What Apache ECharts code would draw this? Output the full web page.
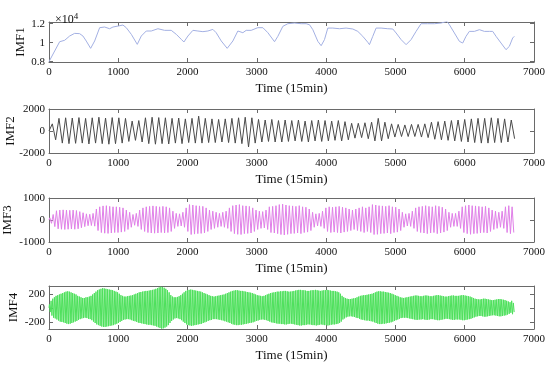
<!DOCTYPE html>
<html><head><meta charset="utf-8">
<script src="https://cdn.jsdelivr.net/npm/echarts@6/dist/echarts.min.js"></script>
<style>html,body{margin:0;padding:0;background:#fff}#c{width:550px;height:368px}</style>
</head><body><div id="c"></div>
<script>
const xTicks = [0,1000,2000,3000,4000,5000,6000,7000];
const yNames = ['IMF1','IMF2','IMF3','IMF4'];
const xName = 'Time (15min)';
const imf1Ticks = [8000,10000,12000];
const imf2Ticks = [-2000,0,2000];
const imf3Ticks = [-1000,0,1000];
const imf4Ticks = [-200,0,200];

const imf1T = [0,10,82,154,226,298,370,442,490,538,601,659,731,803,875,923,995,1067,1115,1188,1274,1332,1404,1476,1572,1668,1764,1837,1909,1947,2005,2077,2149,2221,2293,2365,2413,2486,2572,2654,2726,2798,2846,2918,3014,3087,3159,3255,3303,3375,3447,3543,3639,3712,3760,3808,3880,3928,3976,4024,4096,4192,4288,4385,4457,4529,4601,4625,4673,4721,4793,4889,4962,5010,5082,5154,5226,5298,5370,5466,5563,5659,5745,5779,5851,5923,5971,6019,6067,6139,6212,6284,6356,6404,6452,6524,6596,6644,6692,6716];
const imf1V = [8000,8070,9120,10100,10250,10700,10980,10950,10700,10170,9400,10180,11580,11650,11470,11650,11750,11860,11580,10880,9820,10700,11230,11230,11470,11300,11300,10880,10350,10070,10700,11300,11230,11160,11230,11400,11050,10180,9400,10180,11230,11050,11300,11300,11580,11580,11050,10100,10670,11720,12000,12070,12000,12000,11890,11370,10140,9680,10320,11540,11540,11470,11540,11440,11190,10670,10040,9790,10670,11540,11540,11470,11440,11020,10320,9790,10320,11190,12000,12000,12000,12070,12250,11890,11020,10140,9960,10670,11190,11190,11370,11190,11190,11190,10670,9960,9260,9610,10490,10670];

// IMF2: alternating extrema, one every half day (48 samples)
const imf2Step = 48;
const imf2V = [0,650,-800,1150,-1100,1200,-1150,1180,-1120,1220,
-1100,1150,-1180,1200,-1100,1250,-1150,1180,-1200,1220,
-1150,1200,-1100,1150,-950,900,-850,950,-1000,1200,
-1150,1250,-1200,1220,-1150,1200,-1180,1150,-1100,1180,
-1150,1100,-1050,1150,-1100,1350,-1100,1150,-1050,1100,
-1050,1050,-1000,1100,-1050,1150,-1100,1200,-1150,1250,
-1450,1200,-1100,1050,-1000,1000,-950,1050,-1000,950,
-1000,1000,-950,950,-900,1000,-950,900,-1000,950,
-900,1000,-950,950,-900,900,-850,950,-900,850,
-800,700,-650,700,-600,750,-700,800,-900,1150,
-900,800,-700,650,-550,600,-500,550,-500,600,
-500,600,-550,650,-600,800,-750,850,-800,900,
-850,950,-900,1000,-950,1050,-1000,1100,-1050,1150,
-1100,1150,-1100,1200,-1050,1150,-1050,1100,-1000,1000,-700];

// IMF3: one peak and one trough per 48-sample cycle
const imf3Period = 48;
const imf3Peaks = [100,250,420,450,460,450,440,450,430,380,330,280,260,300,500,600,640,650,620,600,600,580,550,450,350,250,300,450,550,600,620,640,620,600,620,600,550,400,300,280,350,550,700,680,650,640,620,550,450,400,350,300,350,400,550,650,680,700,650,640,620,550,450,400,380,450,600,620,650,700,720,680,650,640,620,650,600,580,500,350,280,300,400,550,600,580,600,620,580,550,500,450,500,550,600,550,600,700,680,650,640,620,650,600,580,500,350,280,300,400,550,600,620,650,620,600,650,620,580,500,350,300,300,400,600,650,680,650,640,620,600,620,550,450,400,350,400,600,650,600];
const imf3Troughs = [-150,-300,-400,-420,-430,-420,-410,-420,-400,-350,-300,-260,-250,-280,-480,-570,-600,-610,-590,-570,-570,-550,-520,-430,-330,-240,-290,-430,-520,-570,-590,-600,-590,-570,-590,-570,-520,-380,-290,-270,-330,-520,-660,-640,-620,-610,-590,-520,-430,-380,-330,-290,-330,-380,-520,-620,-650,-660,-620,-610,-590,-520,-430,-380,-360,-430,-570,-590,-620,-660,-680,-650,-620,-610,-590,-620,-570,-550,-480,-330,-270,-290,-380,-520,-570,-550,-570,-590,-550,-520,-480,-430,-480,-520,-570,-520,-570,-660,-650,-620,-610,-590,-620,-570,-550,-480,-330,-270,-290,-380,-520,-570,-590,-620,-590,-570,-620,-590,-550,-480,-330,-290,-290,-380,-570,-620,-650,-620,-610,-590,-570,-590,-520,-430,-380,-330,-380,-570,-620,-570];

// IMF4: one peak and one trough per 24-sample cycle
const imf4Period = 24;
const imf4Peaks = [50,100,130,150,170,180,190,200,210,220,230,235,230,220,210,200,190,170,160,150,140,140,150,150,160,170,190,210,230,250,260,270,280,275,270,265,260,255,250,240,230,220,200,180,170,160,160,165,170,175,180,190,200,210,220,225,230,235,240,240,245,250,255,260,270,280,290,300,295,285,270,250,220,180,160,150,150,155,165,180,200,220,240,250,255,260,255,250,245,240,235,230,220,210,200,190,180,170,165,160,165,170,175,180,185,190,200,210,220,230,240,245,250,250,245,240,240,235,230,225,220,215,210,200,190,180,175,170,165,170,180,190,200,210,215,220,225,230,230,235,235,240,240,235,230,230,235,240,245,250,255,255,250,250,245,240,240,245,250,250,255,250,245,240,245,250,250,255,250,245,240,240,235,230,220,200,170,150,140,130,125,125,130,135,140,150,160,170,175,180,180,185,190,195,200,210,220,230,235,235,230,230,225,220,215,210,200,190,180,170,160,150,145,140,145,150,155,160,165,170,175,175,170,165,165,170,175,175,170,165,165,170,175,180,180,175,170,165,160,160,165,170,175,175,170,170,170,175,180,180,175,170,165,160,150,140,130,125,120,120,125,130,130,125,120,115,110,110,115,120,125,125,120,115,110,100,90,80,100,70];
const imf4Troughs = [-60,-110,-140,-150,-165,-180,-195,-200,-205,-215,-225,-230,-225,-215,-205,-195,-185,-170,-160,-150,-145,-140,-145,-155,-160,-175,-195,-215,-235,-245,-255,-265,-270,-270,-265,-260,-255,-250,-245,-235,-225,-215,-200,-185,-170,-165,-160,-160,-165,-175,-185,-190,-200,-210,-215,-220,-225,-230,-235,-240,-240,-245,-250,-255,-265,-275,-285,-295,-290,-280,-265,-245,-215,-185,-165,-150,-145,-150,-160,-175,-195,-215,-235,-245,-250,-255,-250,-245,-240,-235,-230,-225,-215,-205,-195,-185,-175,-170,-160,-160,-160,-165,-170,-175,-180,-190,-195,-205,-215,-225,-235,-240,-245,-245,-240,-240,-235,-230,-225,-220,-215,-210,-205,-195,-185,-180,-170,-165,-165,-170,-175,-185,-195,-205,-210,-215,-220,-225,-225,-230,-230,-235,-235,-230,-225,-225,-230,-235,-240,-245,-250,-250,-245,-245,-240,-235,-235,-240,-245,-245,-250,-245,-240,-235,-240,-245,-245,-250,-245,-240,-235,-235,-230,-225,-215,-195,-165,-150,-135,-125,-120,-120,-125,-130,-140,-145,-155,-165,-170,-175,-180,-180,-185,-190,-195,-205,-215,-225,-230,-230,-225,-225,-220,-215,-210,-205,-195,-185,-175,-165,-155,-145,-140,-140,-140,-145,-150,-155,-160,-165,-170,-170,-165,-165,-160,-165,-170,-170,-165,-160,-160,-165,-170,-175,-175,-170,-165,-160,-155,-155,-160,-165,-170,-170,-165,-165,-165,-170,-175,-175,-170,-165,-160,-155,-145,-135,-125,-120,-115,-115,-120,-125,-125,-120,-115,-110,-105,-105,-110,-115,-120,-120,-115,-110,-105,-95,-85,-70,-90,-60];

function cyc(peaks, troughs, period){
  const d=[[0,0]];
  for(let j=0;j<peaks.length;j++){
    d.push([j*period+period/4, peaks[j]]);
    d.push([j*period+3*period/4, troughs[j]]);
  }
  return d;
}
const d1 = imf1T.map((t,i)=>[t,imf1V[i]]);
const d2 = imf2V.map((v,i)=>[i*imf2Step,v]);
const d3 = cyc(imf3Peaks, imf3Troughs, imf3Period);
const d4 = cyc(imf4Peaks, imf4Troughs, imf4Period);

const FONT = "'Liberation Serif','Times New Roman',serif";
const AX = '#6a6a6a';
const grids = [
  {left:49,right:16,top:22,height:40},
  {left:49,right:16,top:109,height:44},
  {left:49,right:16,top:198,height:44},
  {left:49,right:16,top:286,height:43}
].map(g=>Object.assign(g,{containLabel:false,outerBoundsMode:'none'}));
const yCfg = [
  {min:7960,max:12180,ticks:imf1Ticks,fmt:v=>String(v/10000),gap:22},
  {min:-2000,max:2000,ticks:imf2Ticks,fmt:v=>String(v),gap:32},
  {min:-1000,max:1000,ticks:imf3Ticks,fmt:v=>String(v),gap:35},
  {min:-300,max:310,ticks:imf4Ticks,fmt:v=>String(v),gap:29}
];
const xAxes=[], yAxes=[];
grids.forEach((g,i)=>{
  const line={show:true,onZero:false,lineStyle:{color:AX,width:1}};
  xAxes.push({type:'value',gridIndex:i,min:0,max:7000,position:'bottom',
    axisLine:line,splitLine:{show:false},
    axisTick:{inside:true,length:4,lineStyle:{color:AX},customValues:xTicks},
    axisLabel:{customValues:xTicks,formatter:v=>String(v),margin:5,color:'#111',fontFamily:FONT,fontSize:11,hideOverlap:false},
    name:xName,nameLocation:'middle',nameGap:20,nameMoveOverlap:false,
    nameTextStyle:{color:'#111',fontFamily:FONT,fontSize:13}});
  xAxes.push({type:'value',gridIndex:i,min:0,max:7000,position:'top',
    axisLine:line,splitLine:{show:false},
    axisTick:{inside:true,length:4,lineStyle:{color:AX},customValues:xTicks},
    axisLabel:{show:false}});
  const c=yCfg[i];
  yAxes.push({type:'value',gridIndex:i,min:c.min,max:c.max,position:'left',
    axisLine:line,splitLine:{show:false},
    axisTick:{inside:true,length:4,lineStyle:{color:AX},customValues:c.ticks},
    axisLabel:{customValues:c.ticks,formatter:c.fmt,margin:4,color:'#111',fontFamily:FONT,fontSize:11},
    name:yNames[i],nameLocation:'middle',nameRotate:90,nameGap:c.gap,nameMoveOverlap:false,
    nameTextStyle:{color:'#111',fontFamily:FONT,fontSize:13}});
  yAxes.push({type:'value',gridIndex:i,min:c.min,max:c.max,position:'right',
    axisLine:line,splitLine:{show:false},
    axisTick:{inside:true,length:4,lineStyle:{color:AX},customValues:c.ticks},
    axisLabel:{show:false}});
});
const colors=['#a3b0e3','#4a4a4a','#e07fe8','#4ee05c'];
const datas=[d1,d2,d3,d4];
const series=datas.map((d,i)=>({type:'line',xAxisIndex:2*i,yAxisIndex:2*i,data:d,
  showSymbol:false,symbol:'none',lineStyle:{color:colors[i],width:1},clip:true}));

const chart=echarts.init(document.getElementById('c'),null,{renderer:'canvas'});
chart.setOption({
  animation:false,
  backgroundColor:'#fff',
  title:{text:'×10{s|4}',left:50,top:7,textStyle:{color:'#111',fontFamily:FONT,fontSize:12,fontWeight:'normal',
    rich:{s:{fontFamily:FONT,fontSize:9,padding:[0,0,7,0],color:'#111'}}}},
  grid:grids,xAxis:xAxes,yAxis:yAxes,series:series
});
</script></body></html>
